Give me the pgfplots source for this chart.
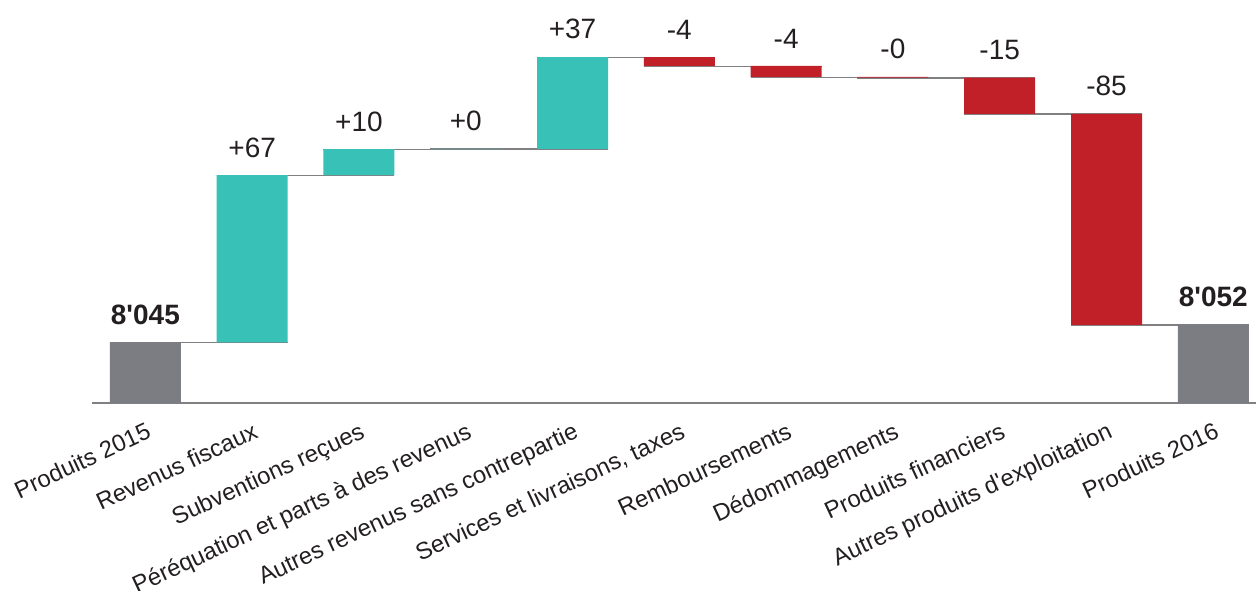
\documentclass[border=0pt]{standalone}
\usepackage{fontspec}
\setmainfont{Liberation Sans}
\usepackage{pgfplots}
\pgfplotsset{compat=1.18}
\definecolor{wfteal}{RGB}{56,193,182}
\definecolor{wfred}{RGB}{193,32,40}
\definecolor{wfgray}{RGB}{124,125,130}
\definecolor{axgray}{RGB}{128,128,130}
\definecolor{txt}{RGB}{35,31,32}
\pgfplotsset{wf/.style={width=582pt, height=201.5pt, scale only axis,
  xmin=-0.5, xmax=10.4, ymin=8021.1, ymax=8182.9}}
\begin{document}
\begin{tikzpicture}
% axis line, category labels and connectors
\begin{axis}[wf,
  axis x line=bottom, axis y line=none,
  axis line style={-, draw=axgray, line width=0.7pt},
  xtick={0,...,10}, major tick length=0pt, ytick=\empty,
  xticklabels={Produits 2015, Revenus fiscaux, Subventions reçues,
    Péréquation et parts à des revenus, Autres revenus sans contrepartie,
    {Services et livraisons, taxes}, Remboursements, Dédommagements,
    Produits financiers, Autres produits d\textquotesingle exploitation, Produits 2016},
  xticklabel shift=9pt,
  xticklabel style={rotate=25, anchor=north east, inner sep=0pt,
    font=\fontsize{11.9}{14}\selectfont, text=txt},
  unbounded coords=jump]
\addplot[axgray, line width=0.7pt] coordinates {
  (-0.3325,8045.3) (1.3325,8045.3) (1.5,nan)
  (0.6675,8112.5) (2.3325,8112.5) (2.5,nan)
  (1.6675,8122.9) (3.3325,8122.9) (3.5,nan)
  (2.6675,8123.0) (4.3325,8123.0) (4.5,nan)
  (3.6675,8159.9) (5.3325,8159.9) (5.5,nan)
  (4.6675,8156.3) (6.3325,8156.3) (6.5,nan)
  (5.6675,8151.9) (7.3325,8151.9) (7.5,nan)
  (6.6675,8151.6) (8.3325,8151.6) (8.5,nan)
  (7.6675,8137.1) (9.3325,8137.1) (9.5,nan)
  (8.6675,8052.4) (10.3325,8052.4)
};
\end{axis}
% waterfall bars
\begin{axis}[wf, hide axis, ybar stacked, bar width=35.5pt]
\addplot[fill=none, draw=none] coordinates {
  (0,0) (1,8045.3) (2,8112.5) (3,8122.9) (4,8123.0) (5,8156.3)
  (6,8151.9) (7,8151.6) (8,8137.1) (9,8052.4) (10,0)};
\addplot[fill=wfgray, draw=none] coordinates {
  (0,8045.3) (1,0) (2,0) (3,0) (4,0) (5,0) (6,0) (7,0) (8,0) (9,0) (10,8052.4)};
\addplot[fill=wfteal, draw=none] coordinates {
  (0,0) (1,67.2) (2,10.4) (3,0.1) (4,36.9) (5,0) (6,0) (7,0) (8,0) (9,0) (10,0)};
\addplot[fill=wfred, draw=none] coordinates {
  (0,0) (1,0) (2,0) (3,0) (4,0) (5,3.6) (6,4.4) (7,0.3) (8,14.5) (9,84.7) (10,0)};
\end{axis}
% value labels
\begin{axis}[wf, hide axis]
\addplot[draw=none, mark=none, nodes near coords, point meta=explicit symbolic,
  nodes near coords style={anchor=south, yshift=5.5pt, text=txt,
    font=\fontsize{14}{16}\selectfont}] coordinates {
  (0,8045.3)[\textbf{8\textquotesingle 045}] (1,8112.5)[+67] (2,8122.9)[+10]
  (3,8123.0)[+0] (4,8159.9)[+37] (5,8159.9)[-4] (6,8156.3)[-4]
  (7,8151.9)[-0] (8,8151.6)[-15] (9,8137.1)[-85]
  (10,8052.4)[\textbf{8\textquotesingle 052}]};
\end{axis}
\pgfresetboundingbox
\path[use as bounding box] (-46pt,-93.5pt) rectangle (582.5pt,201.5pt);
\end{tikzpicture}
\end{document}
